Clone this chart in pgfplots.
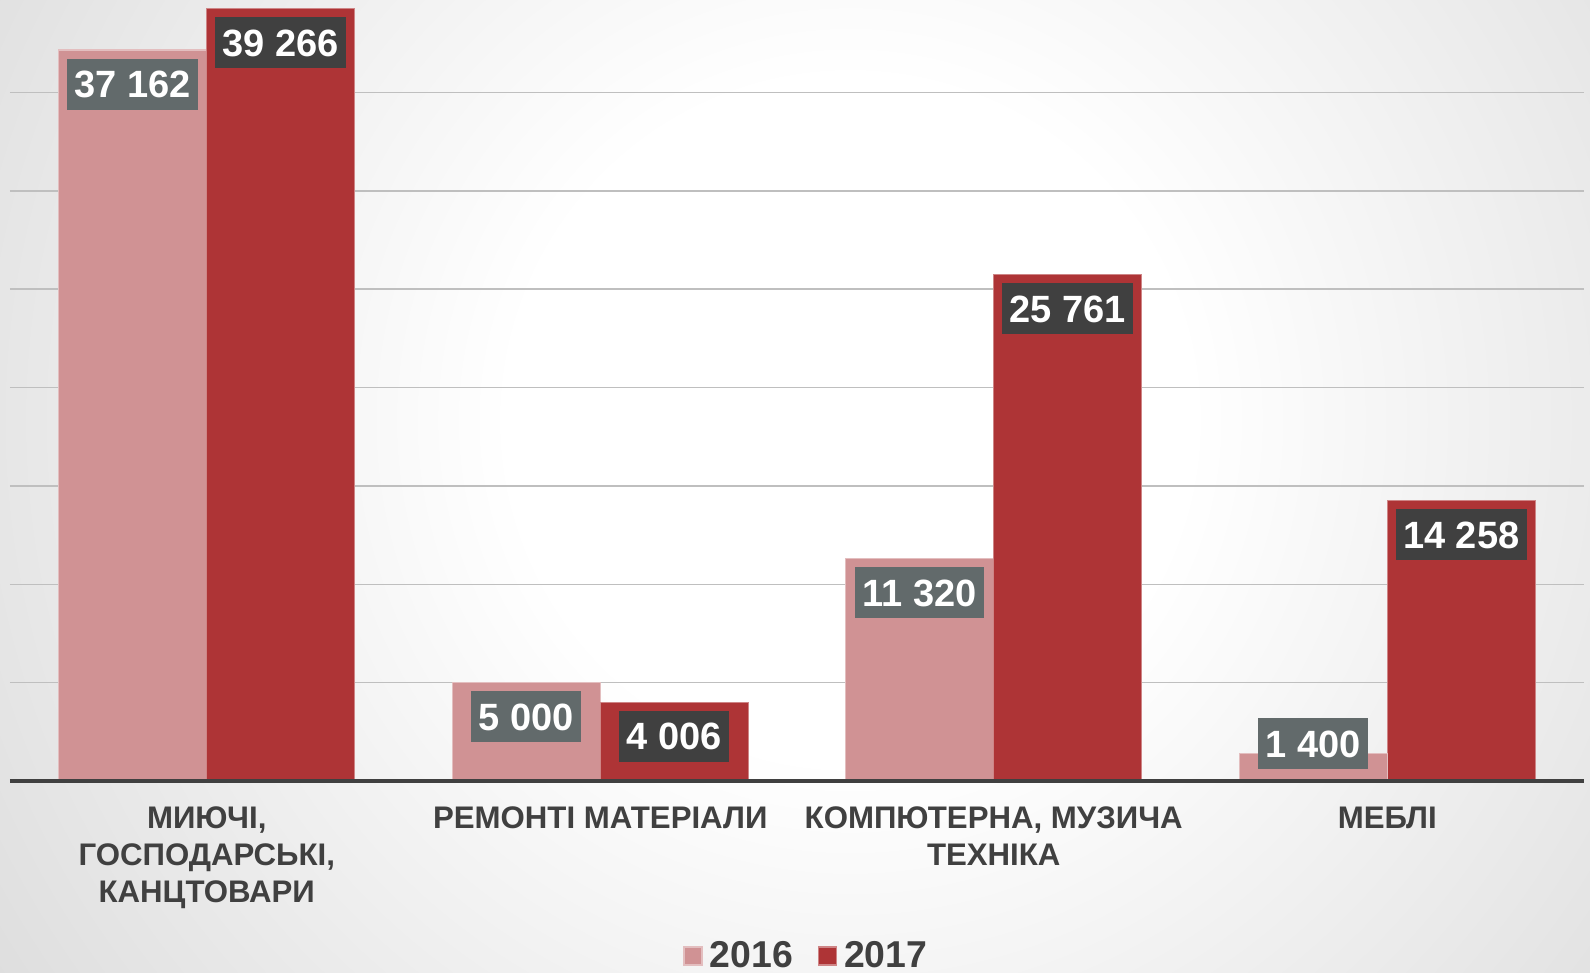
\documentclass[border=0pt]{standalone}
\usepackage{fontspec}
\setmainfont{Liberation Sans}
\usepackage{pgfplots}
\pgfplotsset{compat=1.18}

\definecolor{bar16}{HTML}{D09294}
\definecolor{bar17}{HTML}{AE3436}
\definecolor{box16}{HTML}{626A6B}
\definecolor{box17}{HTML}{404040}
\definecolor{labelgray}{HTML}{404040}
\pgfdeclareradialshading{bgshade}{\pgfpoint{0bp}{0bp}}{color(0bp)=(white); color(10bp)=(white); color(44bp)=(black!22); color(50bp)=(black!27)}

\tikzset{
  datalabel/.style={font=\bfseries\fontsize{19}{19}\selectfont, text=white, fill=#1,
    inner xsep=3.8pt, inner ysep=5.9pt, text height=13.7pt, text depth=0pt},
}

\begin{document}
\begin{tikzpicture}
\useasboundingbox (0,0) rectangle (795pt,486.5pt);
\begin{scope}
  \clip (0,0) rectangle (795pt,486.5pt);
  \shade[shading=bgshade] (0pt,-148.5pt) rectangle (850pt,701.5pt);
\end{scope}
\begin{axis}[
  at={(5pt,96pt)}, anchor=south west,
  scale only axis, width=787pt, height=390.5pt,
  xmin=-0.5, xmax=3.5, ymin=0, ymax=39700,
  ybar, bar width=0.376,
  clip=false,
  axis line style={draw=none},
  major tick length=0pt,
  xtick={0,1,2,3},
  xticklabels={{МИЮЧІ,\\ГОСПОДАРСЬКІ,\\КАНЦТОВАРИ},{РЕМОНТІ МАТЕРІАЛИ},{КОМПЮТЕРНА, МУЗИЧА\\ТЕХНІКА},{МЕБЛІ}},
  xticklabel style={font=\bfseries\fontsize{15.6}{18.5}\selectfont, text=labelgray, align=center, anchor=north, yshift=-9.5pt},
  ytick={5000,10000,...,35000},
  yticklabels={},
  ymajorgrids,
  grid style={black!25, line width=0.75pt},
  /pgf/number format/assume math mode=true,
  /pgf/number format/1000 sep={\ },
  legend columns=2,
  legend style={at={(0.5075,-0.224)}, anchor=center, draw=none, fill=none,
    font=\bfseries\fontsize{18.7}{18.7}\selectfont, text=labelgray,
    nodes={inner xsep=3.5pt},
    /tikz/every even column/.append style={column sep=9pt}},
  legend image code/.code={\fill[#1] (0pt,-4.5pt) rectangle (9pt,4.5pt);},
]
\addplot[fill=bar16, draw=bar16!60!white, line width=0.6pt, bar shift=-0.188,
  nodes near coords, every node near coord/.append style={datalabel=box16, anchor=north, yshift=-4pt}]
  coordinates {(0,37162) (1,5000) (2,11320)};
\addlegendentry{2016}
\addplot[fill=bar17, draw=bar17!60!white, line width=0.6pt, bar shift=0.188,
  nodes near coords, every node near coord/.append style={datalabel=box17, anchor=north, yshift=-4pt}]
  coordinates {(0,39266) (1,4006) (2,25761) (3,14258)};
\addlegendentry{2017}
\addplot[forget plot, fill=bar16, draw=bar16!60!white, line width=0.6pt, bar shift=-0.188,
  nodes near coords, every node near coord/.append style={datalabel=box16, anchor=south, yshift=-8pt}]
  coordinates {(3,1400)};
\draw[labelgray, line width=2pt] (rel axis cs:0,0) -- (rel axis cs:1,0);
\end{axis}
\end{tikzpicture}
\end{document}
